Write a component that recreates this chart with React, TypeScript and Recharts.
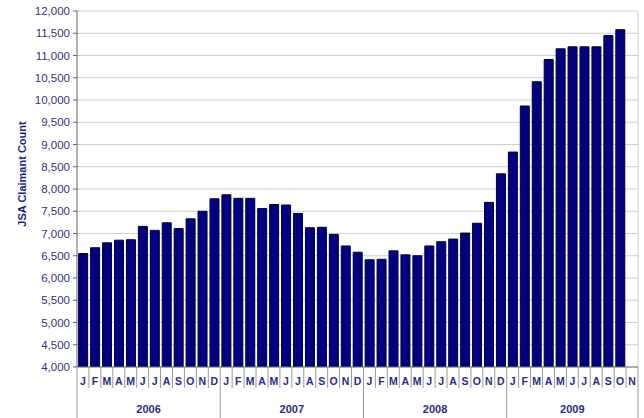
import { BarChart, Bar, XAxis, YAxis, CartesianGrid } from "recharts"

const MONTHS = ["J", "F", "M", "A", "M", "J", "J", "A", "S", "O", "N", "D"]
const YEARS = ["2006", "2007", "2008", "2009"]

const CLAIMANTS_2006 = [6550, 6680, 6790, 6850, 6860, 7160, 7070, 7240, 7110, 7330, 7500, 7780]
const CLAIMANTS_2007 = [7870, 7790, 7790, 7560, 7650, 7640, 7450, 7130, 7140, 6980, 6720, 6580]
const CLAIMANTS_2008 = [6410, 6420, 6610, 6520, 6500, 6720, 6815, 6875, 7010, 7230, 7700, 8340]
// Nov 2009 has a slot on the axis but no figure yet
const CLAIMANTS_2009 = [8830, 9865, 10410, 10910, 11150, 11195, 11195, 11195, 11450, 11580, null]

const Y_TICKS = [4000, 4500, 5000, 5500, 6000, 6500, 7000, 7500, 8000, 8500, 9000, 9500, 10000, 10500, 11000, 11500, 12000]

const series = [CLAIMANTS_2006, CLAIMANTS_2007, CLAIMANTS_2008, CLAIMANTS_2009]

const data = series.flatMap((vals, yi) =>
  vals.map((v, mi) => ({
    key: `${YEARS[yi]}-${mi + 1}`,
    year: YEARS[yi],
    m: mi,
    yearLen: vals.length,
    count: v,
  }))
)

const W = 644
const H = 418
const LEFT = 77
const RIGHT = 6
const TOP = 11
const X_H = 51
const BAND = (W - LEFT - RIGHT) / data.length

const FONT = "'Liberation Sans', Arial, sans-serif"
const NAVY_TEXT = "#2b2b8a"
const SEP = "#9a9a9a"

function MonthTick(props: any) {
  const { x, y, index } = props
  const d = data[index]
  if (!d) return null
  const half = BAND / 2
  const isLast = index === data.length - 1
  return (
    <g>
      <line x1={x - half} x2={x - half} y1={y} y2={d.m === 0 ? H : y + 21} stroke={SEP} />
      {isLast && <line x1={x + half} x2={x + half} y1={y} y2={H} stroke={SEP} />}
      <text x={x} y={y + 18} textAnchor="middle" fontFamily={FONT} fontSize={10.5} fontWeight="bold" fill={NAVY_TEXT}>
        {MONTHS[d.m]}
      </text>
      {d.m === 0 && (
        <text
          x={x - half + (d.yearLen * BAND) / 2}
          y={y + 46}
          textAnchor="middle"
          fontFamily={FONT}
          fontSize={11}
          fontWeight="bold"
          fill={NAVY_TEXT}
        >
          {d.year}
        </text>
      )}
    </g>
  )
}

function YTitle(props: any) {
  const vb = props.viewBox || {}
  const cx = 22
  const cy = (vb.y ?? TOP) + (vb.height ?? 356) / 2 - 15
  return (
    <text
      x={cx}
      y={cy}
      transform={`rotate(-90 ${cx} ${cy})`}
      textAnchor="middle"
      dominantBaseline="central"
      fontFamily={FONT}
      fontSize={11}
      fontWeight="bold"
      fill="#1c1c8c"
    >
      JSA Claimant Count
    </text>
  )
}

export default function App() {
  return (
    <div style={{ position: "absolute", left: 0, top: 0, background: "#fff" }}>
      <BarChart
        width={W}
        height={H}
        data={data}
        margin={{ top: TOP, right: RIGHT, bottom: 0, left: 0 }}
        barCategoryGap="14%"
      >
        <CartesianGrid
          stroke="#cfcfcf"
          vertical={true}
          verticalCoordinatesGenerator={({ offset }: any) => [offset.left + offset.width]}
        />
        <XAxis
          dataKey="key"
          interval={0}
          height={X_H}
          tickSize={0}
          tickMargin={0}
          tickLine={false}
          axisLine={{ stroke: "#777" }}
          tick={<MonthTick />}
        />
        <YAxis
          width={LEFT}
          domain={[4000, 12000]}
          ticks={Y_TICKS}
          interval={0}
          allowDataOverflow
          tickSize={4}
          tickMargin={3}
          axisLine={{ stroke: "#666" }}
          tickLine={{ stroke: "#666" }}
          tickFormatter={(v: number) => v.toLocaleString("en-US")}
          tick={{ fontFamily: FONT, fontSize: 11.5, fill: "#33337a" }}
          label={<YTitle />}
        />
        <Bar dataKey="count" fill="#000080" stroke="#00003a" strokeWidth={1} isAnimationActive={false} />
      </BarChart>
    </div>
  )
}
